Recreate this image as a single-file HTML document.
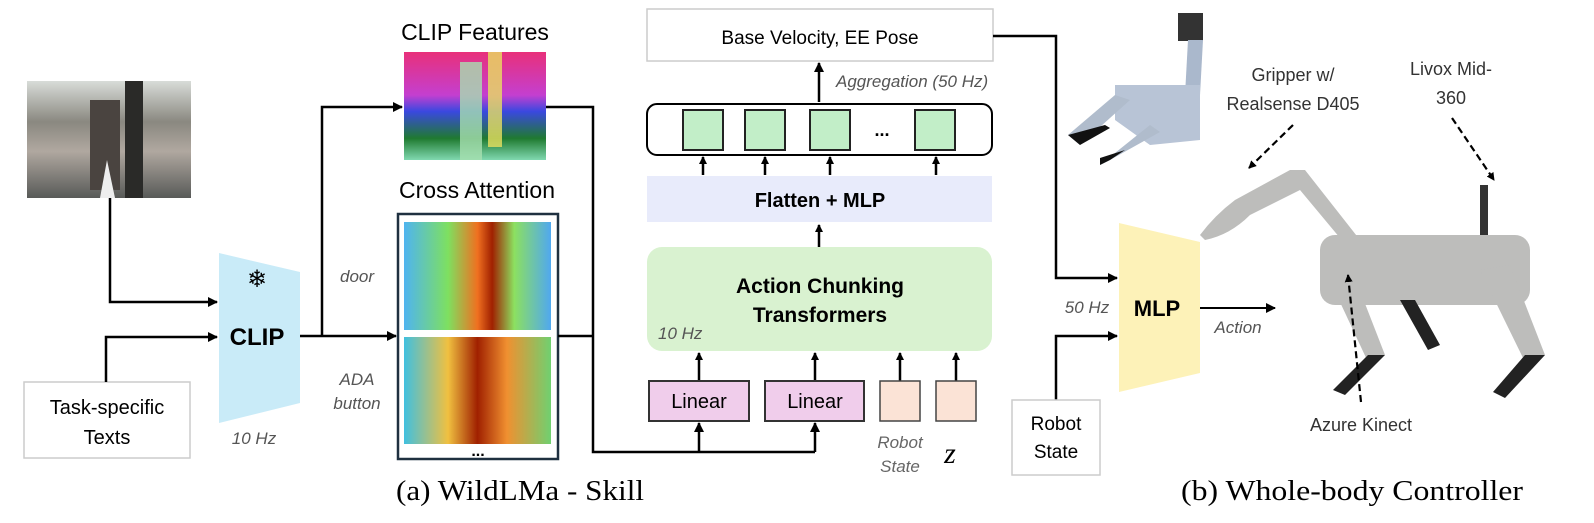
<!DOCTYPE html>
<html><head><meta charset="utf-8"><style>
html,body{margin:0;padding:0;background:#fff}
svg{display:block}
.s{font-family:"Liberation Sans",sans-serif}
.sf{font-family:"Liberation Serif",serif}
</style></head><body>
<svg width="1594" height="523" viewBox="0 0 1594 523" xmlns="http://www.w3.org/2000/svg">
<defs>
<marker id="ar" markerWidth="10" markerHeight="10" refX="9" refY="5" orient="auto" markerUnits="userSpaceOnUse"><path d="M0,0 L10,5 L0,10 z" fill="#000"/></marker>
<marker id="ars" markerWidth="8" markerHeight="8" refX="7" refY="4" orient="auto" markerUnits="userSpaceOnUse"><path d="M0,0 L8,4 L0,8 z" fill="#000"/></marker>
<linearGradient id="cf" x1="0" y1="0" x2="0" y2="1"><stop offset="0" stop-color="#e8307a"/><stop offset="0.4" stop-color="#c43fd0"/><stop offset="0.55" stop-color="#3a48e0"/><stop offset="0.8" stop-color="#1f7a30"/><stop offset="1" stop-color="#80d8b0"/></linearGradient>
<linearGradient id="hm" x1="0" y1="0" x2="1" y2="0"><stop offset="0" stop-color="#4fb4f0"/><stop offset="0.3" stop-color="#7ee060"/><stop offset="0.5" stop-color="#f07020"/><stop offset="0.6" stop-color="#a02000"/><stop offset="0.75" stop-color="#8ce060"/><stop offset="1" stop-color="#50a8f0"/></linearGradient>
<linearGradient id="hm2" x1="0" y1="0" x2="1" y2="0"><stop offset="0" stop-color="#40c0e0"/><stop offset="0.3" stop-color="#f0c040"/><stop offset="0.5" stop-color="#a02000"/><stop offset="0.7" stop-color="#f09030"/><stop offset="1" stop-color="#70d070"/></linearGradient>
<linearGradient id="ph" x1="0" y1="0" x2="0" y2="1"><stop offset="0" stop-color="#d8dcd8"/><stop offset="0.35" stop-color="#8a8880"/><stop offset="0.6" stop-color="#b0a8a0"/><stop offset="1" stop-color="#585a58"/></linearGradient>
</defs>
<g class="s">
<rect x="27" y="81" width="164" height="117" fill="url(#ph)"/>
<rect x="90" y="100" width="30" height="90" fill="#4a4440"/>
<rect x="125" y="81" width="18" height="117" fill="#2a2a28"/>
<polygon points="100,198 107,160 115,198" fill="#eee"/>

<rect x="24" y="382" width="166" height="76" fill="#fff" stroke="#ccc" stroke-width="1.5"/>
<text x="107" y="414" font-size="20" text-anchor="middle">Task-specific</text>
<text x="107" y="444" font-size="20" text-anchor="middle">Texts</text>

<polyline points="110,198 110,302 217,302" fill="none" stroke="#000" stroke-width="2.5" marker-end="url(#ar)"/>
<polyline points="106,382 106,337 217,337" fill="none" stroke="#000" stroke-width="2.5" marker-end="url(#ar)"/>

<polygon points="219,253 300,272 300,403 219,423" fill="#c9ebf8"/>
<text x="257" y="287" font-size="24" text-anchor="middle">❄</text>
<text x="257" y="345" font-size="24" font-weight="bold" text-anchor="middle">CLIP</text>
<text x="254" y="444" font-size="17" font-style="italic" fill="#555" text-anchor="middle">10 Hz</text>

<polyline points="300,336 396,336" fill="none" stroke="#000" stroke-width="2.5" marker-end="url(#ar)"/>
<polyline points="322,336 322,107 402,107" fill="none" stroke="#000" stroke-width="2.5" marker-end="url(#ar)"/>
<text x="357" y="282" font-size="17" font-style="italic" fill="#555" text-anchor="middle">door</text>
<text x="357" y="385" font-size="17" font-style="italic" fill="#555" text-anchor="middle">ADA</text>
<text x="357" y="409" font-size="17" font-style="italic" fill="#555" text-anchor="middle">button</text>

<text x="475" y="40" font-size="23" text-anchor="middle">CLIP Features</text>
<rect x="404" y="52" width="142" height="108" fill="url(#cf)"/>
<rect x="460" y="62" width="22" height="98" fill="#a8e0b0" opacity="0.8"/>
<rect x="488" y="52" width="14" height="95" fill="#e8e060" opacity="0.8"/>

<text x="477" y="198" font-size="23" text-anchor="middle">Cross Attention</text>
<rect x="398" y="214" width="160" height="245" fill="#fff" stroke="#1f3040" stroke-width="2.5"/>
<rect x="404" y="222" width="147" height="108" fill="url(#hm)"/>
<rect x="404" y="337" width="147" height="107" fill="url(#hm2)"/>
<text x="478" y="456" font-size="16" font-weight="bold" text-anchor="middle">...</text>

<polyline points="546,107 593,107 593,452 815,452" fill="none" stroke="#000" stroke-width="2.5"/>
<line x1="558" y1="336" x2="593" y2="336" stroke="#000" stroke-width="2.5"/>
<line x1="699" y1="452" x2="699" y2="423" stroke="#000" stroke-width="2.5" marker-end="url(#ar)"/>
<line x1="815" y1="452" x2="815" y2="423" stroke="#000" stroke-width="2.5" marker-end="url(#ar)"/>

<rect x="647" y="9" width="346" height="52" fill="#fff" stroke="#ccc" stroke-width="1.5"/>
<text x="820" y="44" font-size="19" text-anchor="middle">Base Velocity, EE Pose</text>
<line x1="819" y1="102" x2="819" y2="63" stroke="#000" stroke-width="2.5" marker-end="url(#ar)"/>
<text x="836" y="87" font-size="17" font-style="italic" fill="#555">Aggregation (50 Hz)</text>

<rect x="647" y="104" width="345" height="51" rx="10" fill="#fff" stroke="#000" stroke-width="2"/>
<rect x="683" y="110" width="40" height="40" fill="#c2eec8" stroke="#222" stroke-width="2"/>
<rect x="745" y="110" width="40" height="40" fill="#c2eec8" stroke="#222" stroke-width="2"/>
<rect x="810" y="110" width="40" height="40" fill="#c2eec8" stroke="#222" stroke-width="2"/>
<rect x="915" y="110" width="40" height="40" fill="#c2eec8" stroke="#222" stroke-width="2"/>
<text x="882" y="136" font-size="18" font-weight="bold" text-anchor="middle">...</text>
<g stroke="#000" stroke-width="2.5">
<line x1="703" y1="175" x2="703" y2="157" marker-end="url(#ars)"/>
<line x1="765" y1="175" x2="765" y2="157" marker-end="url(#ars)"/>
<line x1="830" y1="175" x2="830" y2="157" marker-end="url(#ars)"/>
<line x1="936" y1="175" x2="936" y2="157" marker-end="url(#ars)"/>
<line x1="819" y1="247" x2="819" y2="225" marker-end="url(#ars)"/>
<line x1="699" y1="381" x2="699" y2="353" marker-end="url(#ars)"/>
<line x1="815" y1="381" x2="815" y2="353" marker-end="url(#ars)"/>
<line x1="900" y1="381" x2="900" y2="353" marker-end="url(#ars)"/>
<line x1="956" y1="381" x2="956" y2="353" marker-end="url(#ars)"/>
</g>

<rect x="647" y="176" width="345" height="46" fill="#e8ebfb"/>
<text x="820" y="207" font-size="20" font-weight="bold" text-anchor="middle">Flatten + MLP</text>

<rect x="647" y="247" width="345" height="104" rx="15" fill="#d9f2d0"/>
<text x="820" y="293" font-size="21" font-weight="bold" text-anchor="middle">Action Chunking</text>
<text x="820" y="322" font-size="21" font-weight="bold" text-anchor="middle">Transformers</text>
<text x="658" y="339" font-size="17" font-style="italic" fill="#555">10 Hz</text>

<rect x="649" y="381" width="100" height="40" fill="#f0cdeb" stroke="#333" stroke-width="2"/>
<text x="699" y="408" font-size="20" text-anchor="middle">Linear</text>
<rect x="765" y="381" width="99" height="40" fill="#f0cdeb" stroke="#333" stroke-width="2"/>
<text x="815" y="408" font-size="20" text-anchor="middle">Linear</text>
<rect x="880" y="381" width="40" height="40" fill="#fbe3d6" stroke="#444" stroke-width="1.5"/>
<rect x="936" y="381" width="40" height="40" fill="#fbe3d6" stroke="#444" stroke-width="1.5"/>
<text x="900" y="448" font-size="17" font-style="italic" fill="#666" text-anchor="middle">Robot</text>
<text x="900" y="472" font-size="17" font-style="italic" fill="#666" text-anchor="middle">State</text>
<text x="950" y="463" font-size="30" font-style="italic" class="sf" text-anchor="middle">z</text>

<polyline points="993,36 1056,36 1056,278 1117,278" fill="none" stroke="#000" stroke-width="2.5" marker-end="url(#ar)"/>
<polyline points="1056,400 1056,336 1117,336" fill="none" stroke="#000" stroke-width="2.5" marker-end="url(#ar)"/>
<rect x="1012" y="400" width="88" height="75" fill="#fff" stroke="#ccc" stroke-width="1.5"/>
<text x="1056" y="430" font-size="19" text-anchor="middle">Robot</text>
<text x="1056" y="458" font-size="19" text-anchor="middle">State</text>
<text x="1087" y="313" font-size="17" font-style="italic" fill="#555" text-anchor="middle">50 Hz</text>

<polygon points="1119,223 1200,242 1200,373 1119,392" fill="#fdf2b8"/>
<text x="1157" y="316" font-size="22" font-weight="bold" text-anchor="middle">MLP</text>
<line x1="1200" y1="308" x2="1275" y2="308" stroke="#000" stroke-width="2" marker-end="url(#ar)"/>
<text x="1238" y="333" font-size="17" font-style="italic" fill="#555" text-anchor="middle">Action</text>

<rect x="1178" y="13" width="25" height="28" fill="#333"/>
<polygon points="1188,40 1203,40 1200,95 1185,95" fill="#aab8cc"/>
<polygon points="1115,85 1200,85 1200,140 1150,145 1115,120" fill="#b8c4d6"/>
<polygon points="1068,135 1115,95 1130,100 1080,145" fill="#b0bccc"/>
<polygon points="1068,135 1080,145 1110,128 1105,125" fill="#111"/>
<polygon points="1100,165 1150,125 1160,132 1110,160" fill="#b0bccc"/>
<polygon points="1100,165 1110,160 1125,150 1100,158" fill="#111"/>

<g fill="#bdbdbb">
<path d="M1200,235 Q1215,215 1235,200 L1290,170 L1305,170 L1360,240 L1350,250 L1300,190 L1250,215 Q1230,235 1205,240 z"/>
<rect x="1320" y="235" width="210" height="70" rx="15"/>
<polygon points="1325,270 1350,265 1385,355 1368,362"/>
<polygon points="1480,270 1510,265 1545,355 1525,362"/>
<rect x="1480" y="185" width="8" height="50" fill="#333"/>
</g>
<g fill="#222">
<polygon points="1368,355 1385,355 1345,395 1333,390"/>
<polygon points="1525,355 1545,355 1505,398 1493,392"/>
<polygon points="1400,300 1415,300 1440,345 1428,350"/>
</g>

<text x="1293" y="81" font-size="18" fill="#333" text-anchor="middle">Gripper w/</text>
<text x="1293" y="110" font-size="18" fill="#333" text-anchor="middle">Realsense D405</text>
<text x="1451" y="75" font-size="18" fill="#333" text-anchor="middle">Livox Mid-</text>
<text x="1451" y="104" font-size="18" fill="#333" text-anchor="middle">360</text>
<text x="1361" y="431" font-size="18" fill="#333" text-anchor="middle">Azure Kinect</text>
<g stroke="#000" stroke-width="2.2" stroke-dasharray="7,4" fill="none">
<line x1="1293" y1="125" x2="1249" y2="168" marker-end="url(#ars)"/>
<line x1="1452" y1="118" x2="1494" y2="180" marker-end="url(#ars)"/>
<line x1="1361" y1="402" x2="1348" y2="275" marker-end="url(#ars)"/>
</g>
</g>
<text x="520" y="500" font-size="28" class="sf" text-anchor="middle" textLength="248" lengthAdjust="spacingAndGlyphs">(a) WildLMa - Skill</text>
<text x="1352" y="500" font-size="28" class="sf" text-anchor="middle" textLength="342" lengthAdjust="spacingAndGlyphs">(b) Whole-body Controller</text>
</svg>
</body></html>
